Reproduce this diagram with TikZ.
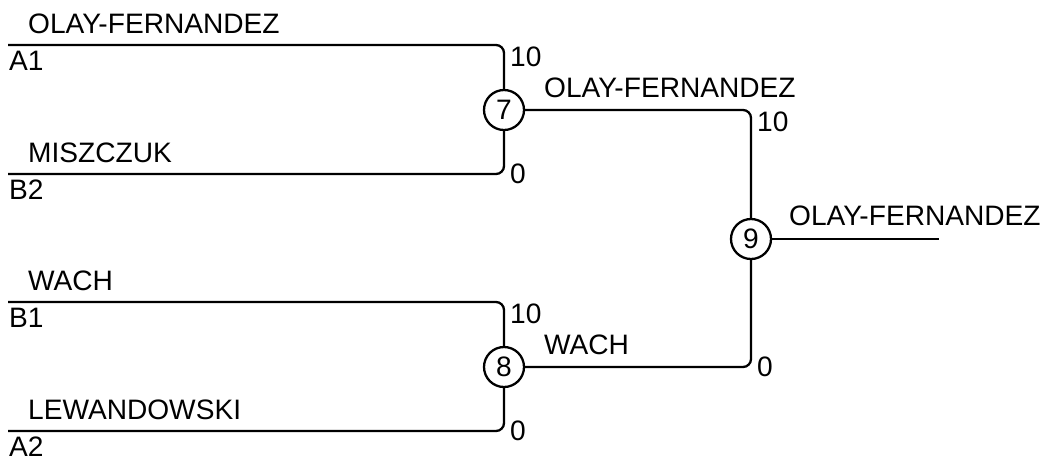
\documentclass[tikz,border=0pt]{standalone}
\usepackage{fontspec}
\setmainfont{Liberation Sans}
\usepackage{tikz}

\begin{document}
\begin{tikzpicture}[x=0.02cm,y=-0.02cm,line width=1.3pt,
    every node/.style={font=\fontsize{16}{19}\selectfont,inner sep=0pt},
    mecz/.style={draw,circle,minimum size=0.8cm},
    kreska/.style={rounded corners=0.16cm}]
    \useasboundingbox (0,0) rectangle (1050,457);
    \node[mecz] (m7) at (504,110) {7};
    \node[mecz] (m8) at (504,367) {8};
    \node[mecz] (m9) at (751,239) {9};
    \foreach \y/\gracz/\poz/\m in {45/OLAY-FERNANDEZ/A1/m7,174/MISZCZUK/B2/m7,302/WACH/B1/m8,431/LEWANDOWSKI/A2/m8} {
        \coordinate (s\poz) at (8,\y);
        \draw[kreska] (s\poz) -| (\m);
        \node[anchor=base west] (g\poz) at (27,\y-12) {\gracz};
        \node[anchor=north west] (n\poz) at (8,\y+5) {\poz};
    }
    \foreach \x/\y/\wynik/\kot/\nr in {509/46/10/north west/1,509/174/0/west/2,509/303/10/north west/3,509/431/0/west/4,756/111/10/north west/5,756/367/0/west/6}
        \node[anchor=\kot] (p\nr) at (\x,\y) {\wynik};
    \draw[kreska] (m7) -| (m9);
    \draw[kreska] (m8) -| (m9);
    \coordinate (koniec) at (939,239);
    \draw (m9) -- (koniec);
    \node[anchor=base west] (f7) at (543,97) {OLAY-FERNANDEZ};
    \node[anchor=base west] (f8) at (543,354) {WACH};
    \node[anchor=base west] (f9) at (788,225) {OLAY-FERNANDEZ};
\end{tikzpicture}
\end{document}
